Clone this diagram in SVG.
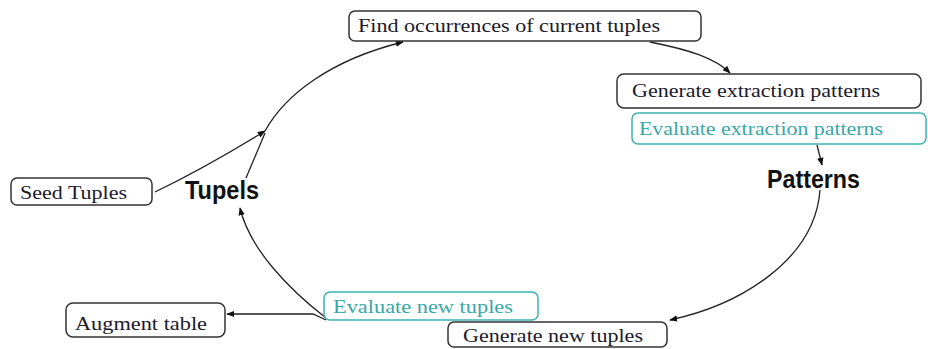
<svg xmlns="http://www.w3.org/2000/svg" width="928" height="349" viewBox="0 0 928 349">
  <defs>
    <marker id="arr" viewBox="0 0 10 10" refX="9" refY="5" markerWidth="8" markerHeight="8" markerUnits="userSpaceOnUse" orient="auto">
      <path d="M0,1 L10,5 L0,9 Z" fill="#111"/>
    </marker>
    <style>
      .box { fill: #fff; stroke: #333; stroke-width: 1.5; }
      .tbox { fill: #fff; stroke: #3fb0b0; stroke-width: 1.5; }
      .lbl { font-family: "Liberation Serif", "Times New Roman", serif; font-size: 19px; fill: #1a1a2a; }
      .tlbl { font-family: "Liberation Serif", "Times New Roman", serif; font-size: 19px; fill: #38a8a8; }
      .big { font-family: "Liberation Sans", Arial, sans-serif; font-size: 25px; font-weight: bold; fill: #111; }
      .conn { fill: none; stroke: #222; stroke-width: 1.3; }
    </style>
  </defs>
  <rect width="928" height="349" fill="#fff"/>

  <g id="connectors">
    <path class="conn" d="M155,192 Q205,168 265,131" marker-end="url(#arr)"/>
    <path class="conn" d="M246,178 L265,133"/>
    <path class="conn" d="M265,131 C285,95 330,60 403,42" marker-end="url(#arr)"/>
    <path class="conn" d="M650,42 C690,50 715,58 730,73" marker-end="url(#arr)"/>
    <path class="conn" d="M817,145 L822,165" marker-end="url(#arr)"/>
    <path class="conn" d="M820,190 C815,260 740,305 670,320" marker-end="url(#arr)"/>
    <path class="conn" d="M326,318 C290,290 250,250 240,208" marker-end="url(#arr)"/>
    <path class="conn" d="M326,320 L313,314 L227,314" marker-end="url(#arr)"/>
  </g>

  <g id="find">
    <rect class="box" x="349" y="11" width="352" height="30" rx="6"/>
    <text class="lbl" x="358" y="32" textLength="302" lengthAdjust="spacingAndGlyphs">Find occurrences of current tuples</text>
  </g>
  <g id="gen-patterns">
    <rect class="box" x="617" y="74" width="304" height="34" rx="7"/>
    <text class="lbl" x="632" y="97" textLength="248" lengthAdjust="spacingAndGlyphs">Generate extraction patterns</text>
  </g>
  <g id="eval-patterns">
    <rect class="tbox" x="632" y="113" width="294" height="31" rx="6"/>
    <text class="tlbl" x="639" y="135" textLength="244" lengthAdjust="spacingAndGlyphs">Evaluate extraction patterns</text>
  </g>
  <g id="patterns">
    <text class="big" x="767" y="188" textLength="93" lengthAdjust="spacingAndGlyphs">Patterns</text>
  </g>
  <g id="seed">
    <rect class="box" x="11" y="178" width="141" height="27" rx="6"/>
    <text class="lbl" x="20" y="199" textLength="107" lengthAdjust="spacingAndGlyphs">Seed Tuples</text>
  </g>
  <g id="tupels">
    <text class="big" x="185" y="199" textLength="74" lengthAdjust="spacingAndGlyphs">Tupels</text>
  </g>
  <g id="augment">
    <rect class="box" x="66" y="303" width="159" height="34" rx="7"/>
    <text class="lbl" x="75" y="330" textLength="132" lengthAdjust="spacingAndGlyphs">Augment table</text>
  </g>
  <g id="eval-tuples">
    <rect class="tbox" x="324" y="292" width="214" height="28" rx="6"/>
    <text class="tlbl" x="333" y="313" textLength="180" lengthAdjust="spacingAndGlyphs">Evaluate new tuples</text>
  </g>
  <g id="gen-tuples">
    <rect class="box" x="448" y="322" width="219" height="25" rx="6"/>
    <text class="lbl" x="463" y="342" textLength="180" lengthAdjust="spacingAndGlyphs">Generate new tuples</text>
  </g>
</svg>
